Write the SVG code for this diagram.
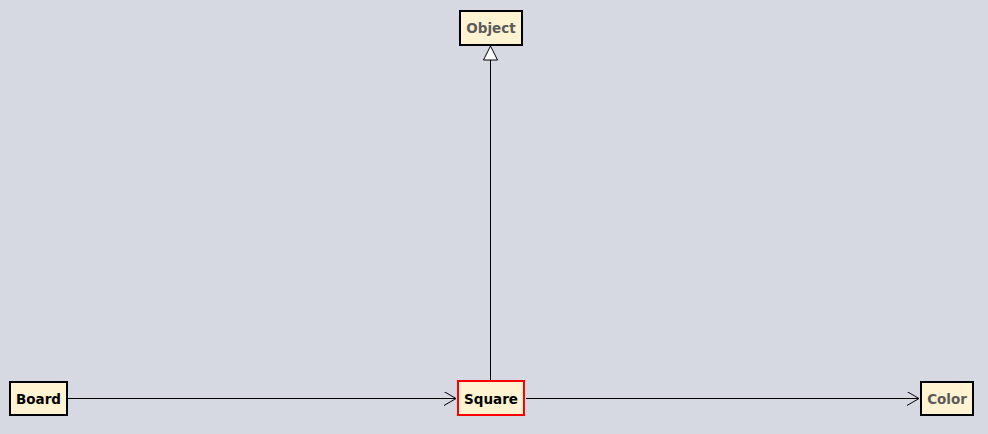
<svg xmlns="http://www.w3.org/2000/svg" width="988" height="434" viewBox="0 0 988 434">
<defs>
<style>
.box{fill:#fff3d1;stroke:#000;stroke-width:2}
.sel{stroke:#ff0000}
.lbl{font-family:"DejaVu Sans",sans-serif;font-weight:bold;font-size:13.5px;text-anchor:middle}
.dim{fill:#5a5a5a}
.blk{fill:#000}
.edge{stroke:#000;stroke-width:1;fill:none}
</style>
<marker id="open" markerWidth="14" markerHeight="14" refX="12" refY="7" orient="auto" markerUnits="userSpaceOnUse">
<path d="M0,0 L12,7 L0,14" fill="none" stroke="#000" stroke-width="1"/>
</marker>
<marker id="tri" markerWidth="16" markerHeight="16" refX="15" refY="8" orient="auto" markerUnits="userSpaceOnUse">
<path d="M1,1 L15,8 L1,15 Z" fill="#fff" stroke="#000" stroke-width="1"/>
</marker>
</defs>
<rect width="988" height="434" fill="#d6d9e2"/>
<g id="connectors">
<line class="edge" x1="490.5" y1="380" x2="490.5" y2="46" marker-end="url(#tri)"/>
<line class="edge" x1="68" y1="398.5" x2="456" y2="398.5" marker-end="url(#open)"/>
<line class="edge" x1="526" y1="398.5" x2="919" y2="398.5" marker-end="url(#open)"/>
</g>
<g id="Object">
<rect class="box" x="460" y="11" width="62" height="34"/>
<text class="lbl dim" x="491" y="33">Object</text>
</g>
<g id="Board">
<rect class="box" x="10" y="382" width="57" height="33"/>
<text class="lbl blk" x="38.5" y="403.5">Board</text>
</g>
<g id="Square">
<rect class="box sel" x="458" y="381" width="66" height="34"/>
<text class="lbl blk" x="491" y="403.5">Square</text>
</g>
<g id="Color">
<rect class="box" x="921" y="382" width="52" height="33"/>
<text class="lbl dim" x="947" y="403.5">Color</text>
</g>
</svg>
